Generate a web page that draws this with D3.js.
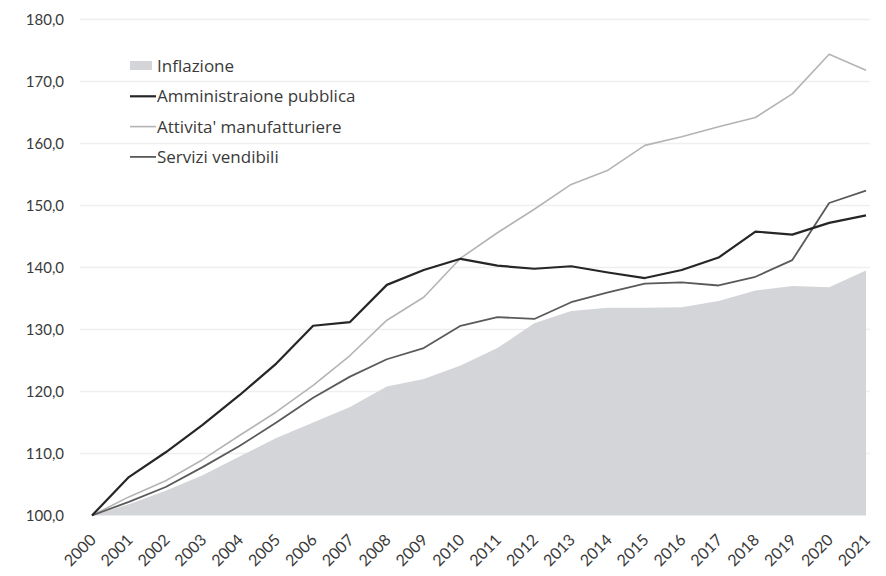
<!DOCTYPE html>
<html>
<head>
<meta charset="utf-8">
<script src="https://cdn.jsdelivr.net/npm/d3@7/dist/d3.min.js"></script>
<style>
  html, body { margin: 0; padding: 0; background: #fff; }
  svg { display: block; }
  text { font-family: Lato, "Open Sans", sans-serif; fill: #3a3a3a; }
</style>
</head>
<body>
<svg id="chart" width="886" height="576"></svg>
<script>
// Index numbers, 2000 = 100
const years = ["2000","2001","2002","2003","2004","2005","2006","2007","2008","2009","2010",
               "2011","2012","2013","2014","2015","2016","2017","2018","2019","2020","2021"];

const inflazione = [100, 101.8, 104.0, 106.5, 109.5, 112.5, 115.0, 117.5, 120.8, 122.0, 124.2,
                    127.0, 131.0, 133.0, 133.5, 133.5, 133.6, 134.6, 136.3, 137.0, 136.8, 139.5];

const amministrazionePubblica = [100, 106.2, 110.2, 114.6, 119.4, 124.5, 130.6, 131.2, 137.2, 139.6, 141.4,
                                 140.3, 139.8, 140.2, 139.2, 138.3, 139.6, 141.6, 145.8, 145.3, 147.2, 148.4];

const attivitaManifatturiere = [100, 103.0, 105.6, 109.0, 112.9, 116.7, 121.0, 125.8, 131.5, 135.2, 141.5,
                                145.6, 149.4, 153.4, 155.7, 159.7, 161.1, 162.7, 164.2, 168.0, 174.4, 171.8];

const serviziVendibili = [100, 102.2, 104.6, 107.8, 111.2, 115.0, 119.0, 122.4, 125.2, 127.0, 130.6,
                          132.0, 131.7, 134.4, 136.0, 137.4, 137.6, 137.1, 138.5, 141.2, 150.4, 152.4];

const yTicks = [100, 110, 120, 130, 140, 150, 160, 170, 180];

const legendItems = [
  { label: "Inflazione", kind: "area", color: "#d4d5d8" },
  { label: "Amministraione pubblica", kind: "line", color: "#262626", width: 2.2 },
  { label: "Attivita' manufatturiere", kind: "line", color: "#b4b4b4", width: 1.6 },
  { label: "Servizi vendibili", kind: "line", color: "#5a5a5a", width: 1.8 }
];

const svg = d3.select("#chart");

const x = d3.scalePoint().domain(years).range([92, 866]);
const y = d3.scaleLinear().domain([100, 180]).range([515.5, 19.5]);

// horizontal gridlines
svg.append("g")
  .selectAll("line")
  .data(yTicks.slice(1))
  .join("line")
  .attr("x1", 80).attr("x2", 870)
  .attr("y1", d => y(d)).attr("y2", d => y(d))
  .attr("stroke", "#efefef")
  .attr("stroke-width", 1.5);

// inflation area
const area = d3.area()
  .x((d, i) => x(years[i]))
  .y0(y(100))
  .y1(d => y(d));

svg.append("path")
  .datum(inflazione)
  .attr("d", area)
  .attr("fill", legendItems[0].color);

// series lines
const line = d3.line()
  .x((d, i) => x(years[i]))
  .y(d => y(d));

const series = [
  { values: attivitaManifatturiere, style: legendItems[2] },
  { values: serviziVendibili, style: legendItems[3] },
  { values: amministrazionePubblica, style: legendItems[1] }
];

svg.append("g")
  .selectAll("path")
  .data(series)
  .join("path")
  .attr("d", d => line(d.values))
  .attr("fill", "none")
  .attr("stroke", d => d.style.color)
  .attr("stroke-width", d => d.style.width)
  .attr("stroke-linejoin", "round");

// y axis labels
const yAxis = d3.axisLeft(y)
  .tickValues(yTicks)
  .tickSize(0)
  .tickPadding(0)
  .tickFormat(d => d3.format(".1f")(d).replace(".", ","));

svg.append("g")
  .attr("transform", "translate(64,0)")
  .call(yAxis)
  .call(g => g.select(".domain").remove())
  .call(g => g.selectAll("text")
    .style("font-family", "Lato, 'Open Sans', sans-serif")
    .style("font-size", "15px")
    .attr("fill", "#3a3a3a"));

// x axis labels, rotated
const xAxis = d3.axisBottom(x).tickSize(0).tickPadding(0);
svg.append("g")
  .call(xAxis)
  .call(g => g.select(".domain").remove())
  .call(g => g.selectAll(".tick").attr("transform", d => `translate(${x(d) + 5},541)`))
  .call(g => g.selectAll("text")
    .attr("y", 0).attr("dy", 0)
    .attr("transform", "rotate(-45)")
    .attr("text-anchor", "end")
    .style("font-family", "Lato, 'Open Sans', sans-serif")
    .style("font-size", "16px")
    .attr("fill", "#3a3a3a"));

// legend
const legend = svg.append("g").attr("transform", "translate(130,66)");
const rows = legend.selectAll("g")
  .data(legendItems)
  .join("g")
  .attr("transform", (d, i) => `translate(0,${i * 30.3})`);

rows.filter(d => d.kind === "area")
  .append("rect")
  .attr("x", 0).attr("y", -5).attr("width", 22).attr("height", 9)
  .attr("fill", d => d.color);

rows.filter(d => d.kind === "line")
  .append("line")
  .attr("x1", 0).attr("x2", 26).attr("y1", 0).attr("y2", 0)
  .attr("stroke", d => d.color)
  .attr("stroke-width", d => d.width);

rows.append("text")
  .attr("x", 27)
  .attr("y", 0)
  .attr("dy", "0.35em")
  .style("font-family", "'Open Sans', Lato, sans-serif")
  .style("font-size", "17px")
  .text(d => d.label);
</script>
</body>
</html>
